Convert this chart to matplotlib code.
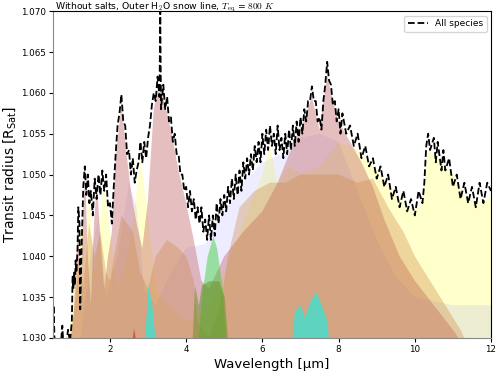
import numpy as np
from matplotlib import pyplot as plt
from matplotlib.ticker import FormatStrFormatter

# All species transit radius
wl_all = [0.50, 0.52, 0.55, 0.70, 0.75, 0.78, 0.85, 0.90, 0.95, 1.00, 1.02, 1.04, 1.06, 1.08, 1.10,
          1.12, 1.15, 1.17, 1.20, 1.22, 1.25, 1.30, 1.34, 1.38, 1.42, 1.46, 1.50, 1.55, 1.60, 1.65,
          1.70, 1.75, 1.80, 1.85, 1.90, 1.95, 2.00, 2.05, 2.10, 2.15, 2.20, 2.25, 2.30, 2.35, 2.40,
          2.45, 2.50, 2.55, 2.60, 2.65, 2.70, 2.75, 2.80, 2.85, 2.90, 2.95, 3.00, 3.05, 3.10, 3.15,
          3.20, 3.25, 3.30, 3.32, 3.34, 3.40, 3.45, 3.50, 3.55, 3.60, 3.65, 3.70, 3.75, 3.80, 3.85,
          3.90, 3.95, 4.00, 4.05, 4.10, 4.15, 4.20, 4.25, 4.30, 4.35, 4.40, 4.45, 4.50, 4.55, 4.60,
          4.65, 4.70, 4.75, 4.80, 4.85, 4.90, 4.95, 5.00, 5.05, 5.10, 5.15, 5.20, 5.25, 5.30, 5.35,
          5.40, 5.45, 5.50, 5.55, 5.60, 5.65, 5.70, 5.75, 5.80, 5.85, 5.90, 5.95, 6.00, 6.05, 6.10,
          6.15, 6.20, 6.25, 6.30, 6.35, 6.40, 6.45, 6.50, 6.55, 6.60, 6.65, 6.70, 6.75, 6.80, 6.85,
          6.90, 6.95, 7.00, 7.05, 7.10, 7.15, 7.20, 7.25, 7.30, 7.35, 7.40, 7.45, 7.50, 7.55, 7.60,
          7.65, 7.70, 7.75, 7.80, 7.85, 7.90, 7.95, 8.00, 8.05, 8.10, 8.20, 8.30, 8.40, 8.50, 8.60,
          8.70, 8.80, 8.90, 9.00, 9.10, 9.20, 9.30, 9.40, 9.50, 9.60, 9.70, 9.80, 9.90, 10.00, 10.10,
          10.20, 10.25, 10.30, 10.35, 10.40, 10.50, 10.55, 10.60, 10.70, 10.75, 10.80, 10.90, 11.00,
          11.10, 11.20, 11.30, 11.40, 11.50, 11.60, 11.70, 11.80, 11.90, 12.00]
r_all = [1.0295, 1.0340, 1.0290, 1.0285, 1.0315, 1.0290, 1.0290, 1.0310, 1.0295, 1.0320, 1.0375, 1.0360,
         1.0380, 1.0365, 1.0395, 1.0380, 1.0410, 1.0460, 1.0440, 1.0335, 1.0400, 1.0485, 1.0510, 1.0475,
         1.0500, 1.0465, 1.0480, 1.0450, 1.0495, 1.0470, 1.0500, 1.0475, 1.0505, 1.0480, 1.0500, 1.0460,
         1.0465, 1.0440, 1.0485, 1.0525, 1.0560, 1.0575, 1.0598, 1.0565, 1.0560, 1.0525, 1.0530, 1.0500,
         1.0520, 1.0490, 1.0505, 1.0515, 1.0540, 1.0515, 1.0540, 1.0520, 1.0545, 1.0560, 1.0585, 1.0600,
         1.0590, 1.0620, 1.0595, 1.0700, 1.0580, 1.0610, 1.0580, 1.0595, 1.0565, 1.0570, 1.0540, 1.0550,
         1.0525, 1.0525, 1.0500, 1.0500, 1.0480, 1.0485, 1.0460, 1.0480, 1.0455, 1.0470, 1.0445, 1.0460,
         1.0440, 1.0460, 1.0430, 1.0445, 1.0420, 1.0450, 1.0420, 1.0450, 1.0425, 1.0465, 1.0440, 1.0470,
         1.0450, 1.0475, 1.0455, 1.0485, 1.0465, 1.0495, 1.0470, 1.0500, 1.0475, 1.0505, 1.0480, 1.0515,
         1.0495, 1.0520, 1.0500, 1.0525, 1.0505, 1.0535, 1.0515, 1.0540, 1.0515, 1.0550, 1.0525, 1.0555,
         1.0530, 1.0560, 1.0535, 1.0550, 1.0525, 1.0560, 1.0530, 1.0545, 1.0520, 1.0550, 1.0525, 1.0555,
         1.0530, 1.0560, 1.0535, 1.0565, 1.0540, 1.0570, 1.0550, 1.0580, 1.0565, 1.0590, 1.0590, 1.0608,
         1.0590, 1.0590, 1.0565, 1.0570, 1.0555, 1.0590, 1.0610, 1.0638, 1.0615, 1.0610, 1.0585, 1.0590,
         1.0565, 1.0580, 1.0550, 1.0575, 1.0550, 1.0560, 1.0535, 1.0550, 1.0520, 1.0535, 1.0510, 1.0520,
         1.0495, 1.0510, 1.0485, 1.0500, 1.0470, 1.0485, 1.0460, 1.0480, 1.0455, 1.0470, 1.0450, 1.0480,
         1.0465, 1.0490, 1.0535, 1.0550, 1.0530, 1.0545, 1.0515, 1.0540, 1.0505, 1.0530, 1.0505, 1.0520,
         1.0485, 1.0500, 1.0470, 1.0490, 1.0465, 1.0485, 1.0460, 1.0490, 1.0465, 1.0490, 1.0480]

# Individual species contributions
wl_h2o = [0.90, 1.00, 1.10, 1.15, 1.25, 1.35, 1.45, 1.60, 1.85, 2.00, 2.20, 2.50, 2.70, 2.80, 3.00,
          3.20, 3.50, 4.00, 4.50, 5.00, 5.50, 6.00, 6.20, 6.40, 6.70, 7.00, 7.50, 8.00, 8.50, 9.00,
          9.50, 10.00, 10.20, 10.35, 10.60, 11.00, 11.30, 11.60, 12.00]
r_h2o = [1.0290, 1.0340, 1.0400, 1.0370, 1.0450, 1.0400, 1.0480, 1.0380, 1.0490, 1.0430, 1.0360,
         1.0410, 1.0480, 1.0520, 1.0450, 1.0360, 1.0340, 1.0320, 1.0330, 1.0380, 1.0440, 1.0500,
         1.0535, 1.0490, 1.0510, 1.0500, 1.0510, 1.0540, 1.0530, 1.0505, 1.0475, 1.0455, 1.0465,
         1.0530, 1.0520, 1.0500, 1.0475, 1.0465, 1.0472]

wl_co2 = [1.20, 1.50, 1.70, 1.90, 2.20, 2.50, 2.70, 2.90, 3.20, 3.60, 4.00, 4.50, 5.00, 5.50, 6.00,
          6.50, 7.00, 7.50, 8.00, 8.50, 9.00, 9.50, 10.00, 11.00, 12.00]
r_co2 = [1.0290, 1.0400, 1.0450, 1.0350, 1.0400, 1.0490, 1.0460, 1.0360, 1.0340, 1.0380, 1.0410,
         1.0415, 1.0455, 1.0490, 1.0515, 1.0525, 1.0545, 1.0550, 1.0540, 1.0480, 1.0420, 1.0375,
         1.0350, 1.0340, 1.0340]

wl_ch4 = [0.95, 1.05, 1.12, 1.17, 1.22, 1.30, 1.35, 1.42, 1.50, 1.58, 1.66, 1.75, 1.85, 1.95, 2.05,
          2.15, 2.30, 2.45, 2.55, 2.70, 2.85, 3.00, 3.15, 3.30, 3.45, 3.60, 3.80, 4.00, 4.20, 4.40,
          4.60, 4.80, 5.00, 5.50, 6.00, 6.40, 6.70, 7.00, 7.30, 7.50, 7.70, 7.85, 8.00, 8.30, 8.60,
          8.90, 9.20, 9.60, 10.00, 10.50, 11.00, 11.30]
r_ch4 = [1.0290, 1.0330, 1.0400, 1.0450, 1.0330, 1.0460, 1.0500, 1.0400, 1.0340, 1.0440, 1.0490,
         1.0420, 1.0360, 1.0400, 1.0430, 1.0520, 1.0585, 1.0520, 1.0480, 1.0440, 1.0410, 1.0470,
         1.0580, 1.0612, 1.0585, 1.0555, 1.0505, 1.0465, 1.0420, 1.0370, 1.0360, 1.0380, 1.0400,
         1.0430, 1.0455, 1.0490, 1.0525, 1.0555, 1.0595, 1.0555, 1.0622, 1.0590, 1.0565, 1.0540,
         1.0515, 1.0485, 1.0445, 1.0400, 1.0370, 1.0340, 1.0310, 1.0290]

wl_nh3 = [0.95, 1.10, 1.20, 1.30, 1.45, 1.60, 1.75, 1.90, 2.00, 2.30, 2.60, 2.80, 3.00, 3.20, 3.50,
          3.80, 4.00, 4.20, 4.30, 4.60, 4.90, 5.10, 5.40, 5.80, 6.20, 6.60, 7.00, 7.50, 8.00, 8.50,
          8.90, 9.30, 9.70, 10.00, 10.40, 10.80, 11.20, 11.40]
r_nh3 = [1.0290, 1.0350, 1.0400, 1.0360, 1.0440, 1.0400, 1.0430, 1.0380, 1.0370, 1.0450, 1.0430,
         1.0380, 1.0360, 1.0400, 1.0420, 1.0410, 1.0400, 1.0370, 1.0320, 1.0300, 1.0340, 1.0400,
         1.0460, 1.0480, 1.0490, 1.0490, 1.0500, 1.0500, 1.0500, 1.0490, 1.0495, 1.0460, 1.0430,
         1.0400, 1.0370, 1.0340, 1.0310, 1.0290]

wl_co = [4.30, 4.40, 4.55, 4.70, 4.80, 4.95, 5.05]
r_co = [1.0290, 1.0350, 1.0400, 1.0425, 1.0410, 1.0360, 1.0290]

wl_ocs = [4.15, 4.22, 4.32, 4.40, 4.60, 4.85, 5.00, 5.10]
r_ocs = [1.0290, 1.0365, 1.0340, 1.0365, 1.0370, 1.0370, 1.0350, 1.0290]

wl_hcn = [2.90, 3.00, 3.10, 3.20, 6.75, 6.85, 7.00, 7.10, 7.25, 7.40, 7.55, 7.70, 7.75]
r_hcn = [1.0290, 1.0367, 1.0340, 1.0290, 1.0290, 1.0335, 1.0340, 1.0325, 1.0345, 1.0357, 1.0340,
         1.0320, 1.0290]

wl_h2s = [2.55, 2.62, 2.70]
r_h2s = [1.0290, 1.0312, 1.0290]

species = [
    (wl_h2o, r_h2o, "#ffff99", 0.5),
    (wl_co2, r_co2, "#8080ff", 0.14),
    (wl_ch4, r_ch4, "#c06060", 0.4),
    (wl_nh3, r_nh3, "#cc8844", 0.35),
    (wl_co, r_co, "#32cd32", 0.45),
    (wl_ocs, r_ocs, "#6b8e23", 0.5),
    (wl_hcn, r_hcn, "#40e0d0", 0.8),
    (wl_h2s, r_h2s, "#e03030", 0.7),
]

fig = plt.figure(figsize=(4.98, 3.73), dpi=100)
ax = fig.add_axes([0.106, 0.094, 0.880, 0.876])

for wl, r, c, a in species:
    ax.fill_between(wl, 1.0, r, color=c, alpha=a, linewidth=0)

ax.plot(wl_all, r_all, "k--", lw=1.3, label="All species")

ax.set_xlim(0.5, 12)
ax.set_ylim(1.030, 1.070)
ax.set_xticks([2, 4, 6, 8, 10, 12])
ax.set_yticks(np.arange(1.030, 1.0701, 0.005))
ax.yaxis.set_major_formatter(FormatStrFormatter("%.3f"))
ax.tick_params(labelsize=6.3, length=3, width=0.8, pad=2)
for s in ["left", "bottom"]:
    ax.spines[s].set_color("#888888")

ax.set_xlabel("Wavelength [µm]", fontsize=9.5, labelpad=3)
ax.set_ylabel("Transit radius [R$_{\\rm Sat}$]", fontsize=10, labelpad=2)
ax.text(0.005, 1.005, "Without salts, Outer H$_2$O snow line, $T_{\\rm eq}$ = $800\\ K$",
        transform=ax.transAxes, fontsize=6.7, va="baseline", ha="left", math_fontfamily="cm")
ax.legend(loc="upper right", fontsize=6.5, handlelength=2.2)

fig.savefig("out.png", dpi=100)
